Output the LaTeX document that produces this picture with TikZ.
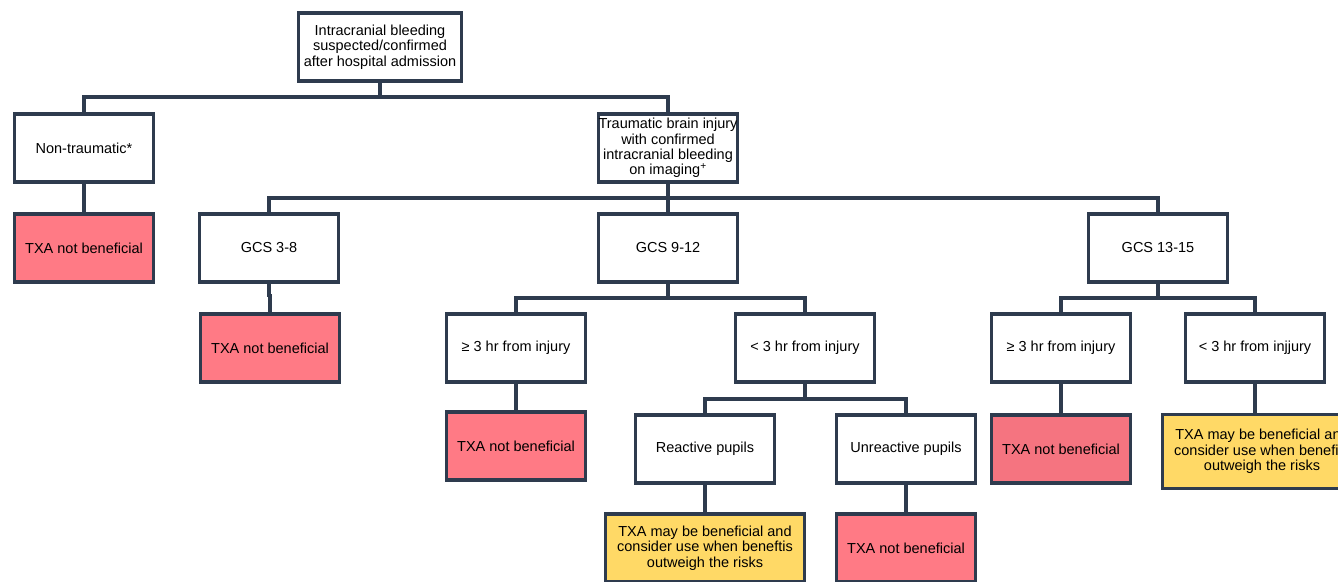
\documentclass[tikz,border=0pt]{standalone}
\usepackage{fontspec}
\setmainfont{Liberation Sans}
\definecolor{navy}{HTML}{2E3B4E}
\definecolor{redfill}{HTML}{FF7A85}
\definecolor{redfilltwo}{HTML}{F57480}
\definecolor{yellowfill}{HTML}{FFD966}
\begin{document}
\begin{tikzpicture}[x=1pt,y=-1pt,
  box/.style={draw=navy, line width=3.4pt, rectangle, fill=white, inner sep=0pt,
    minimum width=139pt, minimum height=68pt, align=center,
    font=\fontsize{14.5}{15.3}\selectfont},
  redbox/.style={box, fill=redfill},
  yelbox/.style={box, fill=yellowfill, minimum width=199pt},
  conn/.style={draw=navy, line width=3.2pt}]
\useasboundingbox (0,0) rectangle (1338,581);
\clip (0,0) rectangle (1338,581);
\fill[white] (0,0) rectangle (1338,581);
% nodes
\node[box, minimum width=163pt] (top) at (380,47) {Intracranial bleeding\\suspected/confirmed\\after hospital admission};
\node[box] (nt) at (84,148) {Non-traumatic*};
\node[redbox] (txa1) at (84,248) {TXA not beneficial};
\node[box] (tr) at (668,148) {Traumatic brain injury\\with confirmed\\intracranial bleeding\\on imaging\textsuperscript{+}};
\node[box] (g1) at (269,248) {GCS 3-8};
\node[redbox] (txa2) at (270,348) {TXA not beneficial};
\node[box] (g2) at (668,248) {GCS 9-12};
\node[box] (g3) at (1158,248) {GCS 13-15};
\node[box] (h1) at (516,348) {≥ 3 hr from injury};
\node[box] (h2) at (805,348) {< 3 hr from injury};
\node[redbox] (txa3) at (516,446) {TXA not beneficial};
\node[box] (rp) at (705,449) {Reactive pupils};
\node[box] (up) at (906,449) {Unreactive pupils};
\node[yelbox] (may1) at (705,548) {TXA may be beneficial and\\consider use when beneftis\\outweigh the risks};
\node[redbox] (txa4) at (906,548) {TXA not beneficial};
\node[box] (h3) at (1061,348) {≥ 3 hr from injury};
\node[box] (h4) at (1255,348) {< 3 hr from injjury};
\node[redbox, fill=redfilltwo] (txa5) at (1061,449) {TXA not beneficial};
\node[yelbox, minimum height=74pt] (may2) at (1262,451.5) {TXA may be beneficial and\\consider use when benefits\\outweigh the risks};
% bars
\coordinate (b1) at (380,97);
\coordinate (b2) at (668,198);
\coordinate (b3) at (668,298);
\coordinate (b4) at (805,399);
\coordinate (b5) at (1158,298);
% connectors
\path[conn] (top.south) -- (b1);
\path[conn] (nt.north) |- (b1) -| (tr.north);
\path[conn] (nt.south) -- (txa1.north);
\path[conn] (tr.south) -- (b2);
\path[conn] (g1.north) |- (b2) -| (g3.north);
\path[conn] (b2) -- (g2.north);
\path[conn] (g1.south) -- ++(0,12) -| (txa2.north);
\path[conn] (g2.south) -- (b3);
\path[conn] (h1.north) |- (b3) -| (h2.north);
\path[conn] (h1.south) -- (txa3.north);
\path[conn] (h2.south) -- (b4);
\path[conn] (rp.north) |- (b4) -| (up.north);
\path[conn] (rp.south) -- (may1.north);
\path[conn] (up.south) -- (txa4.north);
\path[conn] (g3.south) -- (b5);
\path[conn] (h3.north) |- (b5) -| (h4.north);
\path[conn] (h3.south) -- (txa5.north);
\path[conn] (h4.south) -- (h4.south |- may2.north);
\end{tikzpicture}
\end{document}
